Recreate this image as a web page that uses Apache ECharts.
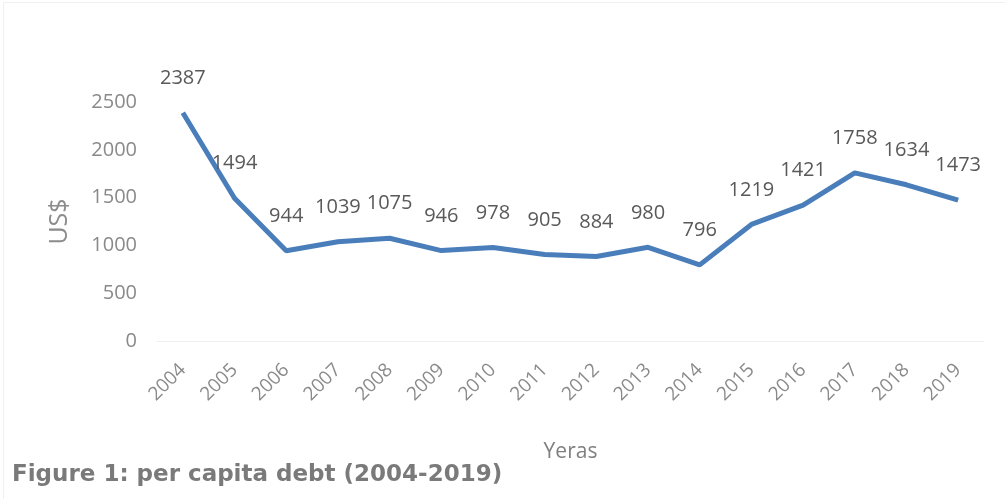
<!DOCTYPE html>
<html><head><meta charset="utf-8">
<script src="https://cdn.jsdelivr.net/npm/echarts@6/dist/echarts.min.js"></script>
<style>html,body{margin:0;padding:0;background:#fff}#c{width:1005px;height:499px}</style>
</head><body><div id="c"></div>
<script>
const years = ['2004','2005','2006','2007','2008','2009','2010','2011','2012','2013','2014','2015','2016','2017','2018','2019'];
const debt = [2387,1494,944,1039,1075,946,978,905,884,980,796,1219,1421,1758,1634,1473];
const yTicks = [0,500,1000,1500,2000,2500];
const chart = echarts.init(document.getElementById('c'));
chart.setOption({
  backgroundColor:'#fff',
  animation:false,
  graphic:[
    {type:'rect',shape:{x:3.5,y:2.5,width:1100,height:1000},style:{fill:'none',stroke:'#f0f0f0',lineWidth:1}},
    {type:'text',left:12,top:464,style:{text:'Figure 1: per capita debt (2004-2019)',font:'bold 23px "DejaVu Sans"',fill:'#7a7a7a'}}
  ],
  grid:{left:157,right:21,top:102,bottom:158},
  xAxis:{type:'category',data:years,boundaryGap:true,
    name:'Yeras',nameLocation:'middle',nameGap:101,
    nameTextStyle:{fontSize:21,color:'#7f7f7f',fontFamily:'Open Sans'},
    axisLine:{lineStyle:{color:'#eeeeee',width:1}},axisTick:{show:false},
    axisLabel:{rotate:45,fontSize:19,color:'#8a8a8a',fontFamily:'Open Sans',margin:26}},
  yAxis:{type:'value',min:0,max:2500,interval:500,
    name:'US$',nameLocation:'middle',nameGap:85,nameRotate:90,
    nameTextStyle:{fontSize:25,color:'#8c8c8c',fontFamily:'Open Sans'},
    axisLine:{show:false},axisTick:{show:false},splitLine:{show:false},
    axisLabel:{fontSize:20,color:'#8a8a8a',fontFamily:'Open Sans',margin:20,
      formatter:v=>yTicks.includes(v)?String(v):''}},
  series:[{type:'line',data:debt,symbol:'circle',symbolSize:1,showSymbol:true,
    itemStyle:{color:'rgba(0,0,0,0)'},
    lineStyle:{color:'#4a7ebb',width:5},
    labelLayout:{hideOverlap:false},
    label:{show:true,position:'top',distance:24,fontSize:20,color:'#595959',fontFamily:'Open Sans'}}]
});
</script></body></html>
